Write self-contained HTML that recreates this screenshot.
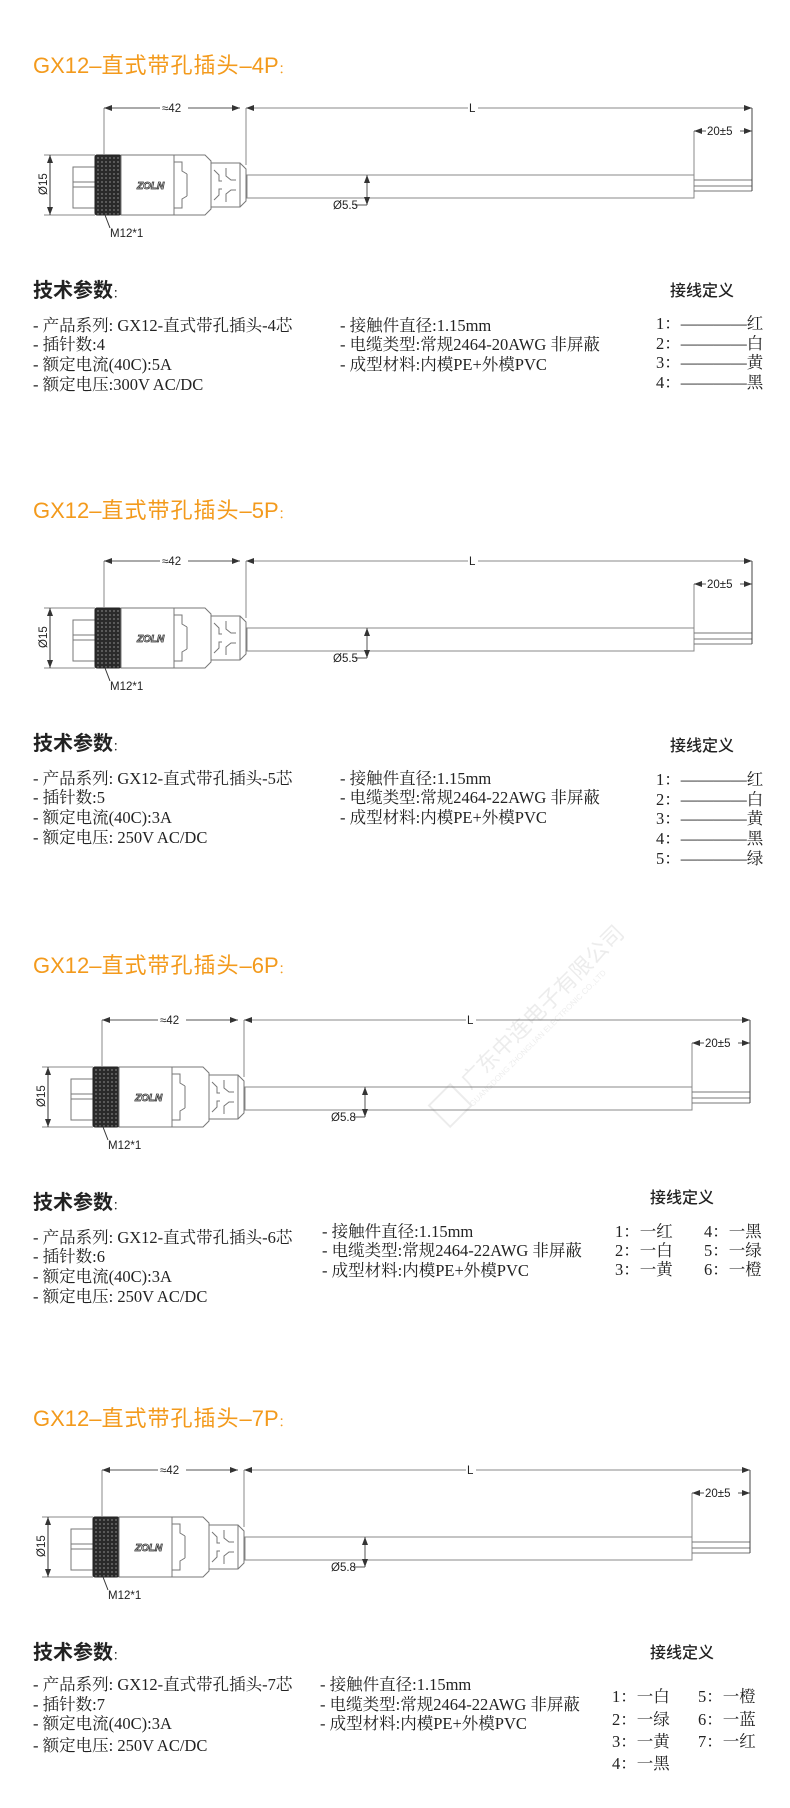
<!DOCTYPE html>
<html><head><meta charset="utf-8">
<style>
html,body{margin:0;padding:0;background:#fff;}
body{width:790px;height:1808px;position:relative;overflow:hidden;}
svg{position:absolute;left:0;top:0;}
.t{font-family:"Liberation Sans","Noto Sans CJK SC",sans-serif;fill:#f39a1c;font-size:22px;}
.h{font-family:"Liberation Sans","Noto Sans CJK SC",sans-serif;fill:#222;font-size:20px;font-weight:bold;}
.w{font-family:"Noto Sans CJK SC",sans-serif;fill:#222;font-size:16px;font-weight:500;}
.p{font-family:"Liberation Serif","Noto Serif CJK SC",serif;fill:#222;font-size:16.5px;}
.d{font-family:"Liberation Sans",sans-serif;fill:#222;font-size:11.5px;}
</style></head><body>
<svg width="790" height="1808" viewBox="0 0 790 1808" xmlns="http://www.w3.org/2000/svg">
<defs>
<marker id="a" markerWidth="8" markerHeight="6" refX="8" refY="3" orient="auto-start-reverse" markerUnits="userSpaceOnUse">
<path d="M0,0 L8,3 L0,6 Z" fill="#333"/></marker>
<pattern id="kn" width="4" height="4" patternUnits="userSpaceOnUse">
<rect width="4" height="4" fill="#2a2a2a"/><circle cx="2" cy="2" r="1" fill="#6a6a6a"/></pattern>
<g id="conn" stroke="#777" stroke-width="1" fill="none">
<line x1="44" y1="155" x2="95" y2="155" stroke="#888"/>
<line x1="44" y1="215" x2="95" y2="215" stroke="#888"/>
<line x1="50" y1="155" x2="50" y2="215" stroke="#333" marker-start="url(#a)" marker-end="url(#a)"/>
<rect x="73" y="167" width="22" height="41" fill="#fff"/>
<line x1="73" y1="182" x2="95" y2="182"/><line x1="73" y1="187" x2="95" y2="187"/>
<rect x="95" y="155" width="26" height="60" rx="2" fill="url(#kn)" stroke="#222"/>
<rect x="121" y="155" width="53" height="60" fill="#fff"/>
<path d="M174,155 L205,155 L211,161 L211,209 L205,215 L174,215 Z" fill="#fff"/>
<polyline points="174,162 182,162 182,171 187,174"/>
<polyline points="174,208 182,208 182,199 187,196"/>
<line x1="187" y1="174" x2="187" y2="196"/>
<path d="M211,163 L240,163 L246,169 L246,201 L240,207 L211,207 Z" fill="#fff"/>
<polyline points="214,170 219,175 219,181 222,181"/>
<polyline points="214,200 219,195 219,189 222,189"/>
<polyline points="226,168 226,176 231,180 236,180"/>
<polyline points="226,202 226,194 231,190 236,190"/>
<line x1="240" y1="163" x2="240" y2="207"/>
<rect x="247" y="175" width="447" height="23" fill="#fff" stroke="#888"/>
<line x1="694" y1="180" x2="752" y2="180"/><line x1="694" y1="186" x2="752" y2="186"/><line x1="694" y1="191" x2="752" y2="191"/>
<line x1="752" y1="180" x2="752" y2="191"/>
<line x1="104" y1="108" x2="104" y2="155" stroke="#888"/>
<line x1="246" y1="108" x2="246" y2="165" stroke="#888"/>
<line x1="104" y1="108" x2="240" y2="108" stroke="#555" marker-start="url(#a)" marker-end="url(#a)"/>
<line x1="246" y1="108" x2="752" y2="108" stroke="#888" marker-start="url(#a)" marker-end="url(#a)"/>
<line x1="752" y1="108" x2="752" y2="191" stroke="#444"/>
<line x1="694" y1="131" x2="694" y2="176" stroke="#888"/>
<line x1="694" y1="131" x2="752" y2="131" stroke="#555" marker-start="url(#a)" marker-end="url(#a)"/>
<line x1="367" y1="175" x2="367" y2="205" stroke="#555" marker-start="url(#a)" marker-end="url(#a)"/>
<line x1="355" y1="205" x2="367" y2="205" stroke="#555"/>
<line x1="105" y1="215" x2="110" y2="228" stroke="#333"/>
</g>
</defs>

<text class="t" x="33" y="73">GX12–<tspan letter-spacing="1">直式带孔插头</tspan>–4P<tspan font-size="12">：</tspan></text>
<text class="t" x="33" y="518">GX12–<tspan letter-spacing="1">直式带孔插头</tspan>–5P<tspan font-size="12">：</tspan></text>
<text class="t" x="33" y="973">GX12–<tspan letter-spacing="1">直式带孔插头</tspan>–6P<tspan font-size="12">：</tspan></text>
<text class="t" x="33" y="1426">GX12–<tspan letter-spacing="1">直式带孔插头</tspan>–7P<tspan font-size="12">：</tspan></text>

<g><use href="#conn"/>
<rect x="160" y="102" width="28" height="12" fill="#fff"/><text class="d" x="162" y="112">≈42</text>
<rect x="468" y="102" width="10" height="12" fill="#fff"/><text class="d" x="469" y="112">L</text>
<rect x="706" y="125" width="34" height="12" fill="#fff"/><text class="d" x="707" y="135">20±5</text>
<text class="d" x="333" y="209">Ø5.5</text><text class="d" x="110" y="237">M12*1</text>
<text class="d" transform="translate(47,195) rotate(-90)">Ø15</text>
<text x="137" y="189" font-family="Liberation Sans" font-size="10" font-weight="bold" font-style="italic" fill="#fff" stroke="#333" stroke-width="0.8">ZOLN</text>
</g>
<g transform="translate(0,453)"><use href="#conn"/>
<rect x="160" y="102" width="28" height="12" fill="#fff"/><text class="d" x="162" y="112">≈42</text>
<rect x="468" y="102" width="10" height="12" fill="#fff"/><text class="d" x="469" y="112">L</text>
<rect x="706" y="125" width="34" height="12" fill="#fff"/><text class="d" x="707" y="135">20±5</text>
<text class="d" x="333" y="209">Ø5.5</text><text class="d" x="110" y="237">M12*1</text>
<text class="d" transform="translate(47,195) rotate(-90)">Ø15</text>
<text x="137" y="189" font-family="Liberation Sans" font-size="10" font-weight="bold" font-style="italic" fill="#fff" stroke="#333" stroke-width="0.8">ZOLN</text>
</g>
<g transform="translate(-2,912)"><use href="#conn"/>
<rect x="160" y="102" width="28" height="12" fill="#fff"/><text class="d" x="162" y="112">≈42</text>
<rect x="468" y="102" width="10" height="12" fill="#fff"/><text class="d" x="469" y="112">L</text>
<rect x="706" y="125" width="34" height="12" fill="#fff"/><text class="d" x="707" y="135">20±5</text>
<text class="d" x="333" y="209">Ø5.8</text><text class="d" x="110" y="237">M12*1</text>
<text class="d" transform="translate(47,195) rotate(-90)">Ø15</text>
<text x="137" y="189" font-family="Liberation Sans" font-size="10" font-weight="bold" font-style="italic" fill="#fff" stroke="#333" stroke-width="0.8">ZOLN</text>
</g>
<g transform="translate(-2,1362)"><use href="#conn"/>
<rect x="160" y="102" width="28" height="12" fill="#fff"/><text class="d" x="162" y="112">≈42</text>
<rect x="468" y="102" width="10" height="12" fill="#fff"/><text class="d" x="469" y="112">L</text>
<rect x="706" y="125" width="34" height="12" fill="#fff"/><text class="d" x="707" y="135">20±5</text>
<text class="d" x="333" y="209">Ø5.8</text><text class="d" x="110" y="237">M12*1</text>
<text class="d" transform="translate(47,195) rotate(-90)">Ø15</text>
<text x="137" y="189" font-family="Liberation Sans" font-size="10" font-weight="bold" font-style="italic" fill="#fff" stroke="#333" stroke-width="0.8">ZOLN</text>
</g>

<g transform="translate(470,1090) rotate(-45)" opacity="0.13">
<text font-family="Noto Sans CJK SC,sans-serif" font-size="22" fill="#777" x="0" y="0">广东中连电子有限公司</text>
<text font-family="Liberation Sans,sans-serif" font-size="8" fill="#777" x="-10" y="14">GUANGDONG ZHONGLIAN ELECTRONIC CO.,LTD</text>
<rect x="-40" y="-18" width="30" height="30" fill="none" stroke="#777" stroke-width="2"/>
</g>

<text class="h" x="33" y="297">技术参数<tspan font-size="11" font-weight="normal">：</tspan></text>
<text class="p" x="33" y="331">- 产品系列: GX12-直式带孔插头-4芯</text>
<text class="p" x="33" y="350">- 插针数:4</text>
<text class="p" x="33" y="370">- 额定电流(40C):5A</text>
<text class="p" x="33" y="390">- 额定电压:300V AC/DC</text>
<text class="p" x="340" y="331">- 接触件直径:1.15mm</text>
<text class="p" x="340" y="350">- 电缆类型:常规2464-20AWG 非屏蔽</text>
<text class="p" x="340" y="370">- 成型材料:内模PE+外模PVC</text>
<text class="w" x="670" y="296">接线定义</text>
<text class="p" x="656" y="329">1：————红</text>
<text class="p" x="656" y="349">2：————白</text>
<text class="p" x="656" y="368">3：————黄</text>
<text class="p" x="656" y="388">4：————黑</text>

<text class="h" x="33" y="750">技术参数<tspan font-size="11" font-weight="normal">：</tspan></text>
<text class="p" x="33" y="784">- 产品系列: GX12-直式带孔插头-5芯</text>
<text class="p" x="33" y="803">- 插针数:5</text>
<text class="p" x="33" y="823">- 额定电流(40C):3A</text>
<text class="p" x="33" y="843">- 额定电压: 250V AC/DC</text>
<text class="p" x="340" y="784">- 接触件直径:1.15mm</text>
<text class="p" x="340" y="803">- 电缆类型:常规2464-22AWG 非屏蔽</text>
<text class="p" x="340" y="823">- 成型材料:内模PE+外模PVC</text>
<text class="w" x="670" y="751">接线定义</text>
<text class="p" x="656" y="785">1：————红</text>
<text class="p" x="656" y="805">2：————白</text>
<text class="p" x="656" y="824">3：————黄</text>
<text class="p" x="656" y="844">4：————黑</text>
<text class="p" x="656" y="864">5：————绿</text>

<text class="h" x="33" y="1209">技术参数<tspan font-size="11" font-weight="normal">：</tspan></text>
<text class="p" x="33" y="1243">- 产品系列: GX12-直式带孔插头-6芯</text>
<text class="p" x="33" y="1262">- 插针数:6</text>
<text class="p" x="33" y="1282">- 额定电流(40C):3A</text>
<text class="p" x="33" y="1302">- 额定电压: 250V AC/DC</text>
<text class="p" x="322" y="1237">- 接触件直径:1.15mm</text>
<text class="p" x="322" y="1256">- 电缆类型:常规2464-22AWG 非屏蔽</text>
<text class="p" x="322" y="1276">- 成型材料:内模PE+外模PVC</text>
<text class="w" x="650" y="1203">接线定义</text>
<text class="p" x="615" y="1237">1：一红</text>
<text class="p" x="615" y="1256">2：一白</text>
<text class="p" x="615" y="1275">3：一黄</text>
<text class="p" x="704" y="1237">4：一黑</text>
<text class="p" x="704" y="1256">5：一绿</text>
<text class="p" x="704" y="1275">6：一橙</text>

<text class="h" x="33" y="1659">技术参数<tspan font-size="11" font-weight="normal">：</tspan></text>
<text class="p" x="33" y="1690">- 产品系列: GX12-直式带孔插头-7芯</text>
<text class="p" x="33" y="1710">- 插针数:7</text>
<text class="p" x="33" y="1729">- 额定电流(40C):3A</text>
<text class="p" x="33" y="1751">- 额定电压: 250V AC/DC</text>
<text class="p" x="320" y="1690">- 接触件直径:1.15mm</text>
<text class="p" x="320" y="1710">- 电缆类型:常规2464-22AWG 非屏蔽</text>
<text class="p" x="320" y="1729">- 成型材料:内模PE+外模PVC</text>
<text class="w" x="650" y="1658">接线定义</text>
<text class="p" x="612" y="1702">1：一白</text>
<text class="p" x="612" y="1725">2：一绿</text>
<text class="p" x="612" y="1747">3：一黄</text>
<text class="p" x="612" y="1769">4：一黑</text>
<text class="p" x="698" y="1702">5：一橙</text>
<text class="p" x="698" y="1725">6：一蓝</text>
<text class="p" x="698" y="1747">7：一红</text>
</svg>
</body></html>
